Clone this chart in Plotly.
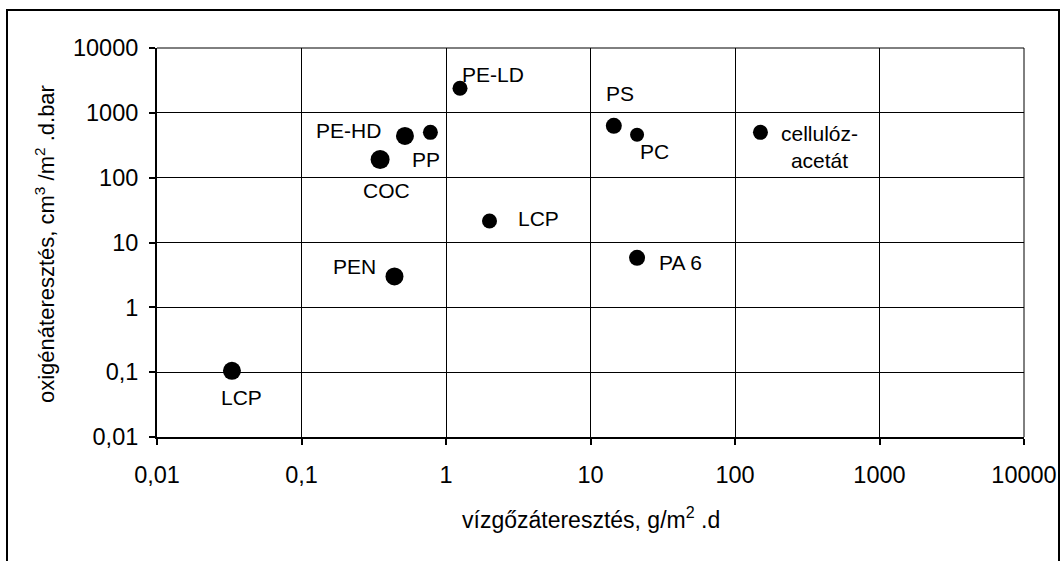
import math
import plotly.graph_objects as go

# --- data ---
materials = ["PE-LD", "PE-HD", "PP", "COC", "LCP", "PEN", "PS", "PC", "PA 6", "cellulóz-<br>acetát", "LCP"]
water_vapour = [1.25, 0.52, 0.78, 0.35, 2.0, 0.44, 14.5, 21.0, 21.0, 150.0, 0.033]
oxygen = [2400, 440, 500, 190, 21.5, 3.0, 630, 460, 5.8, 500, 0.105]

tick_vals = [0.01, 0.1, 1, 10, 100, 1000, 10000]
tick_text = ["0,01", "0,1", "1", "10", "100", "1000", "10000"]

x_title = "vízgőzáteresztés, g/m<sup>2</sup> .d"
y_title = "oxigénáteresztés, cm<sup>3</sup> /m<sup>2</sup> .d.bar"

# --- styles (not data) ---
marker_sizes = [15, 18, 15, 19, 15, 18, 16, 14, 16, 15, 18]
label_shift = [(33, 14), (-56, 5), (-4, -27), (6, -31), (49, 2), (-40, 10),
               (6, 32), (17, -17), (43, -5), (59, -15), (10, -27)]

FONT = "Arial, 'Liberation Sans', sans-serif"
PLOT_L, PLOT_R, PLOT_T, PLOT_B = 157, 1024, 48, 437
PW, PH = PLOT_R - PLOT_L, PLOT_B - PLOT_T

fig = go.Figure()
fig.add_trace(go.Scatter(
    x=water_vapour, y=oxygen, mode="markers",
    marker=dict(color="#000000", size=marker_sizes, opacity=1, line=dict(width=0)),
    showlegend=False, hoverinfo="skip"))

for name, xv, yv, (dx, dy) in zip(materials, water_vapour, oxygen, label_shift):
    fig.add_annotation(x=math.log10(xv), y=math.log10(yv), text=name,
                       showarrow=False, xshift=dx, yshift=dy, align="center",
                       font=dict(family=FONT, size=21, color="black"))

axis_common = dict(
    type="log", range=[-2, 4], tickmode="array", tickvals=tick_vals, ticktext=tick_text,
    showgrid=True, gridcolor="black", gridwidth=1,
    showline=True, linecolor="black", linewidth=2,
    ticks="outside", ticklen=6, tickwidth=2, tickcolor="black",
    tickfont=dict(family=FONT, size=23.5, color="black"),
    zeroline=False, automargin=False,
)

fig.update_layout(
    width=1061, height=561,
    margin=dict(l=PLOT_L, r=1061 - PLOT_R, t=PLOT_T, b=561 - PLOT_B, autoexpand=False),
    paper_bgcolor="white", plot_bgcolor="white",
    font=dict(family=FONT, color="black"),
    xaxis=dict(axis_common, ticklabelstandoff=10),
    yaxis=dict(axis_common, ticklabelstandoff=6),
)

# axis titles
fig.add_annotation(xref="paper", yref="paper", x=0.5, y=(PLOT_B - 518) / PH,
                   xanchor="center", yanchor="middle", text=x_title, showarrow=False,
                   font=dict(family=FONT, size=23, color="black"))
fig.add_annotation(xref="paper", yref="paper", x=(45 - PLOT_L) / PW, y=(PLOT_B - 244) / PH,
                   xanchor="center", yanchor="middle", text=y_title, showarrow=False,
                   textangle=-90, font=dict(family=FONT, size=22, color="black"))

# plot-area top/right edge lines and outer chart frame
fig.add_shape(type="line", xref="paper", yref="paper", x0=0, x1=1, y0=1, y1=1,
              line=dict(color="black", width=1))
fig.add_shape(type="line", xref="paper", yref="paper", x0=1, x1=1, y0=0, y1=1,
              line=dict(color="black", width=1))
fig.add_shape(type="rect", xref="paper", yref="paper",
              x0=(7 - PLOT_L) / PW, x1=(1059 - PLOT_L) / PW,
              y0=-0.4, y1=(PLOT_B - 10) / PH,
              line=dict(color="black", width=2), fillcolor="rgba(0,0,0,0)", layer="above")

fig.write_html(
    "out.html",
    config={"displayModeBar": False},
    post_script=("document.body.style.margin='0px';"
                 "document.body.style.overflow='hidden';"
                 "document.documentElement.style.overflow='hidden';"),
)
